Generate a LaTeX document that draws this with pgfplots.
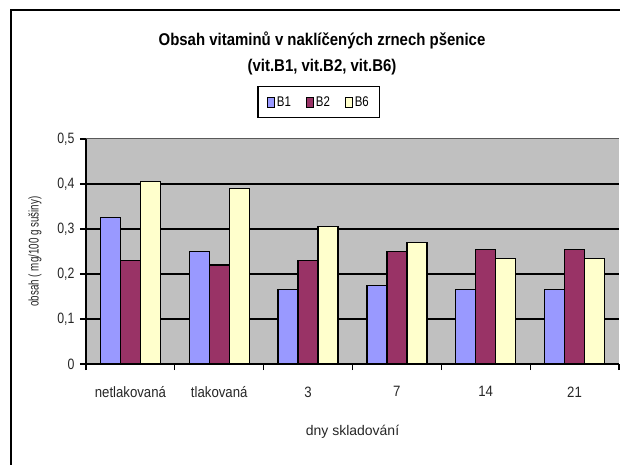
\documentclass[border=0pt]{standalone}
\usepackage{fontspec}
\setmainfont{Liberation Sans}
\newfontfamily\fa{Liberation Sans}[FakeStretch=0.7]
\newfontfamily\fb{Liberation Sans}[FakeStretch=0.82]
\newfontfamily\fc{Liberation Sans}[FakeStretch=0.88]
\usepackage{pgfplots}
\pgfplotsset{compat=1.18}
\usetikzlibrary{calc}
\definecolor{cB1}{RGB}{153,153,255}
\definecolor{cB2}{RGB}{153,51,102}
\definecolor{cB6}{RGB}{255,255,204}
\definecolor{plotgray}{RGB}{192,192,192}
\begin{document}
\begin{tikzpicture}[x=1pt,y=1pt]
\begin{axis}[
  at={(0,0)}, anchor=south west,
  scale only axis, width=533pt, height=225pt,
  ymin=0, ymax=0.5, xmin=-0.5, xmax=5.5,
  ybar=0pt, bar width=20pt,
  clip=false,
  axis background/.style={fill=plotgray},
  axis x line*=bottom, axis y line*=left,
  axis line style={black, line width=1.5pt, -},
  xtick={0,...,5},
  xticklabels={netlakovaná,tlakovaná,3,7,14,21},
  minor xtick={-0.5,0.5,1.5,2.5,3.5,4.5,5.5},
  major x tick style={draw=none},
  minor x tick style={black, line width=1.2pt},
  tick align=outside,
  minor tick length=6pt, major tick length=6pt,
  ytick={0,0.1,0.2,0.3,0.4},
  extra y ticks={0.5},
  extra y tick style={grid style={gray!70!black, line width=1pt}},
  /pgf/number format/use comma,
  /pgf/number format/fixed,
  /pgf/number format/precision=1,
  /pgf/number format/assume math mode=true,
  y tick style={black, line width=1.2pt},
  ymajorgrids, grid style={black, line width=1.5pt},
  yticklabel style={font=\fb\fontsize{15}{17}\selectfont, xshift=-2pt, color=black!85},
  xticklabel style={font=\fc\fontsize{15}{17}\selectfont, yshift=-13pt, color=black!85},
  xlabel={dny skladování},
  xlabel style={font=\fontsize{14}{16}\selectfont, color=black!85, at={(axis description cs:0.5,-0.302)}, anchor=center},
  ylabel={obsah ( mg/100 g sušiny)},
  ylabel style={font=\fa\fontsize{14}{16}\selectfont, color=black!85, at={(axis description cs:-0.0957,0.5)}, anchor=center},
  legend style={at={(0.437,1.164)}, anchor=center, legend columns=3,
    draw=black, line width=1.2pt, fill=white, font=\fb\fontsize{14}{16}\selectfont,
    /tikz/every even column/.append style={column sep=13pt},
    inner ysep=8pt, inner xsep=9pt},
  legend image code/.code={\draw[#1, line width=0.9pt] (0pt,-5pt) rectangle (7pt,5pt);},
]
\addplot[fill=cB1, draw=black, line width=1.2pt] coordinates {(0,0.325) (1,0.25) (2,0.165) (3,0.175) (4,0.165) (5,0.165)};
\addplot[fill=cB2, draw=black, line width=1.2pt] coordinates {(0,0.23) (1,0.22) (2,0.23) (3,0.25) (4,0.255) (5,0.255)};
\addplot[fill=cB6, draw=black, line width=1.2pt] coordinates {(0,0.405) (1,0.39) (2,0.305) (3,0.27) (4,0.235) (5,0.235)};
\legend{B1,B2,B6}
\coordinate (BL) at (rel axis cs:0,0);
\end{axis}
\pgfresetboundingbox
\path[use as bounding box] ($(BL)+(-86,-101)$) rectangle ($(BL)+(534,364)$);
\draw[line width=2pt] ($(BL)+(-75,-101)$) -- ($(BL)+(-75,354)$) -- ($(BL)+(534,354)$);
\node[font=\fc\fontsize{17}{19}\selectfont\bfseries] at ($(BL)+(236,324)$) {Obsah vitaminů v naklíčených zrnech pšenice};
\node[font=\fc\fontsize{17}{19}\selectfont\bfseries] at ($(BL)+(236,297)$) {(vit.B1, vit.B2, vit.B6)};
\end{tikzpicture}
\end{document}
